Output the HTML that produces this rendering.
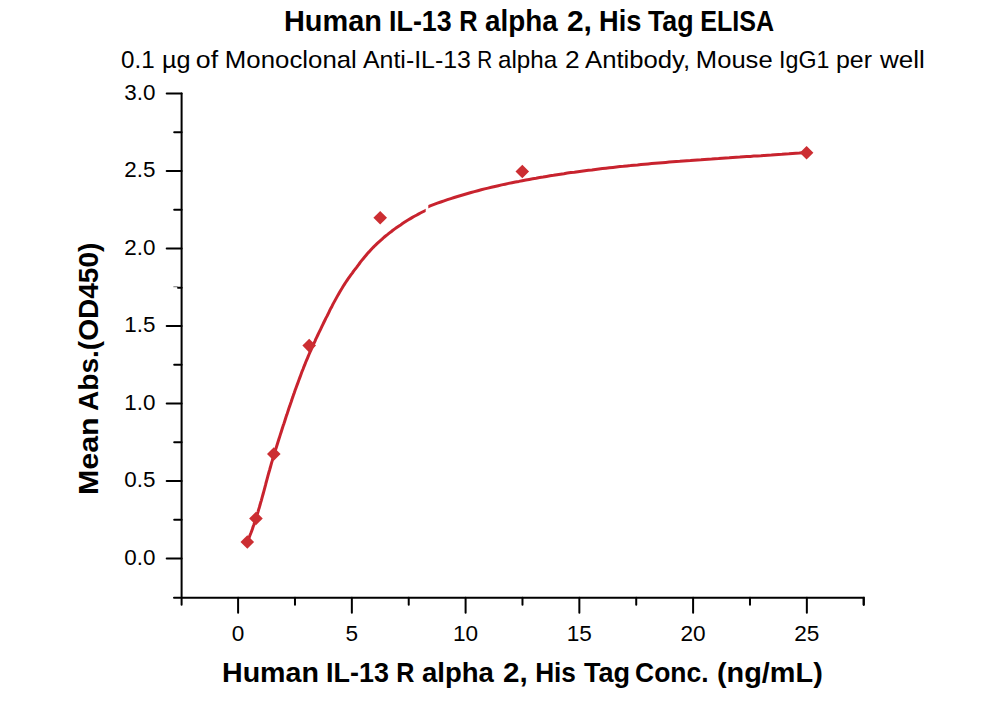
<!DOCTYPE html>
<html><head><meta charset="utf-8"><style>
html,body{margin:0;padding:0;background:#fff;width:1000px;height:702px;overflow:hidden}
svg{display:block}
text{font-family:"Liberation Sans",sans-serif;fill:#000}
</style></head><body>
<svg width="1000" height="702" viewBox="0 0 1000 702">
<rect width="1000" height="702" fill="#fff"/>
<g font-size="28.6" font-weight="bold"><text x="283.98" y="30.5" textLength="97.96" lengthAdjust="spacingAndGlyphs">Human</text><text x="389.12" y="30.5" textLength="62.58" lengthAdjust="spacingAndGlyphs">IL-13</text><text x="459.22" y="30.5" textLength="18.36" lengthAdjust="spacingAndGlyphs">R</text><text x="485.03" y="30.5" textLength="72.67" lengthAdjust="spacingAndGlyphs">alpha</text><text x="566.95" y="30.5" textLength="25.00" lengthAdjust="spacingAndGlyphs">2,</text><text x="599.10" y="30.5" textLength="42.33" lengthAdjust="spacingAndGlyphs">His</text><text x="648.00" y="30.5" textLength="45.61" lengthAdjust="spacingAndGlyphs">Tag</text><text x="700.25" y="30.5" textLength="73.82" lengthAdjust="spacingAndGlyphs">ELISA</text></g>
<g font-size="24.2"><text x="121.00" y="68" textLength="33.62" lengthAdjust="spacingAndGlyphs">0.1</text><text x="161.92" y="68" textLength="28.53" lengthAdjust="spacingAndGlyphs">µg</text><text x="195.89" y="68" textLength="22.31" lengthAdjust="spacingAndGlyphs">of</text><text x="224.87" y="68" textLength="131.95" lengthAdjust="spacingAndGlyphs">Monoclonal</text><text x="363.00" y="68" textLength="107.90" lengthAdjust="spacingAndGlyphs">Anti-IL-13</text><text x="477.29" y="68" textLength="14.97" lengthAdjust="spacingAndGlyphs">R</text><text x="498.00" y="68" textLength="59.19" lengthAdjust="spacingAndGlyphs">alpha</text><text x="564.91" y="68" textLength="14.68" lengthAdjust="spacingAndGlyphs">2</text><text x="585.00" y="68" textLength="105.19" lengthAdjust="spacingAndGlyphs">Antibody,</text><text x="695.89" y="68" textLength="76.76" lengthAdjust="spacingAndGlyphs">Mouse</text><text x="779.08" y="68" textLength="50.31" lengthAdjust="spacingAndGlyphs">IgG1</text><text x="835.94" y="68" textLength="36.03" lengthAdjust="spacingAndGlyphs">per</text><text x="880.00" y="68" textLength="44.80" lengthAdjust="spacingAndGlyphs">well</text></g>
<g stroke="#000" stroke-width="2" fill="none" stroke-linecap="round">
<path d="M181.6 93.60V604.7M174 597.8H863.73V604.7" />
<path d="M166.7 558.60H181.6" />
<path d="M166.7 481.10H181.6" />
<path d="M166.7 403.60H181.6" />
<path d="M166.7 326.10H181.6" />
<path d="M166.7 248.60H181.6" />
<path d="M166.7 171.10H181.6" />
<path d="M166.7 93.60H181.6" />
<path d="M174.2 519.85H181.6" />
<path d="M174.2 442.35H181.6" />
<path d="M174.2 364.85H181.6" />
<path d="M178 287.65H181.6" />
<path d="M173.8 286.75H177.5" stroke="#777" stroke-width="1.2"/>
<path d="M174.2 209.85H181.6" />
<path d="M174.2 132.35H181.6" />
<path d="M238.10 597.8V612.8" />
<path d="M351.85 597.8V612.8" />
<path d="M465.60 597.8V612.8" />
<path d="M579.35 597.8V612.8" />
<path d="M693.10 597.8V612.8" />
<path d="M806.85 597.8V612.8" />
<path d="M294.98 597.8V604.7" />
<path d="M408.73 597.8V604.7" />
<path d="M522.48 597.8V604.7" />
<path d="M636.23 597.8V604.7" />
<path d="M749.98 597.8V604.7" />
<path d="M863.73 597.8V604.7" />
</g>
<g font-size="22.4">
<text x="155.5" y="564.9" text-anchor="end">0.0</text>
<text x="155.5" y="487.4" text-anchor="end">0.5</text>
<text x="155.5" y="409.9" text-anchor="end">1.0</text>
<text x="155.5" y="332.4" text-anchor="end">1.5</text>
<text x="155.5" y="254.9" text-anchor="end">2.0</text>
<text x="155.5" y="177.4" text-anchor="end">2.5</text>
<text x="155.5" y="99.9" text-anchor="end">3.0</text>
</g>
<g font-size="22.6">
<text x="238.10" y="640.8" text-anchor="middle">0</text>
<text x="351.85" y="640.8" text-anchor="middle">5</text>
<text x="465.60" y="640.8" text-anchor="middle">10</text>
<text x="579.35" y="640.8" text-anchor="middle">15</text>
<text x="693.10" y="640.8" text-anchor="middle">20</text>
<text x="806.85" y="640.8" text-anchor="middle">25</text>
</g>
<g font-size="28.3" font-weight="bold"><text x="221.98" y="681.7" textLength="96.95" lengthAdjust="spacingAndGlyphs">Human</text><text x="326.10" y="681.7" textLength="62.90" lengthAdjust="spacingAndGlyphs">IL-13</text><text x="396.22" y="681.7" textLength="18.17" lengthAdjust="spacingAndGlyphs">R</text><text x="422.03" y="681.7" textLength="71.90" lengthAdjust="spacingAndGlyphs">alpha</text><text x="502.95" y="681.7" textLength="24.73" lengthAdjust="spacingAndGlyphs">2,</text><text x="535.15" y="681.7" textLength="40.82" lengthAdjust="spacingAndGlyphs">His</text><text x="584.00" y="681.7" textLength="46.12" lengthAdjust="spacingAndGlyphs">Tag</text><text x="635.07" y="681.7" textLength="73.44" lengthAdjust="spacingAndGlyphs">Conc.</text><text x="716.98" y="681.7" textLength="105.79" lengthAdjust="spacingAndGlyphs">(ng/mL)</text></g>
<g font-size="28.4" font-weight="bold" transform="translate(98 493) rotate(-90)"><text x="-2.14" y="0" textLength="77.84" lengthAdjust="spacingAndGlyphs">Mean</text><text x="82.01" y="0" textLength="168.36" lengthAdjust="spacingAndGlyphs">Abs.(OD450)</text></g>
<path d="M247.3 542.0 L248.2 539.8 L249.1 537.7 L249.9 535.5 L250.8 533.3 L251.6 531.2 L252.4 529.0 L253.1 526.8 L253.9 524.7 L254.6 522.5 L255.3 520.3 L256.0 518.1 L256.7 515.9 L257.4 513.7 L258.1 511.6 L258.7 509.4 L259.4 507.2 L260.0 505.0 L260.6 502.8 L261.3 500.6 L261.9 498.4 L262.5 496.2 L263.1 494.0 L263.7 491.8 L264.3 489.6 L264.9 487.4 L265.5 485.2 L266.0 483.0 L266.6 480.8 L267.2 478.6 L267.8 476.4 L268.4 474.2 L269.0 472.0 L269.7 469.7 L270.3 467.5 L270.9 465.3 L271.5 463.1 L272.2 460.9 L272.8 458.7 L273.5 456.5 L274.2 454.3 L274.8 452.1 L275.5 449.9 L276.2 447.7 L276.9 445.5 L277.6 443.2 L278.3 441.0 L279.0 438.8 L279.7 436.6 L280.4 434.4 L281.1 432.2 L281.8 430.0 L282.5 427.8 L283.2 425.6 L284.0 423.4 L284.7 421.2 L285.4 419.0 L286.1 416.8 L286.9 414.6 L287.6 412.4 L288.3 410.2 L289.0 408.0 L289.8 405.9 L290.5 403.7 L291.3 401.5 L292.0 399.3 L292.8 397.1 L293.5 394.9 L294.3 392.8 L295.0 390.6 L295.8 388.4 L296.6 386.2 L297.4 384.1 L298.2 381.9 L299.0 379.7 L299.8 377.6 L300.6 375.4 L301.4 373.3 L302.2 371.1 L303.1 369.0 L303.9 366.8 L304.8 364.7 L305.6 362.5 L306.5 360.4 L307.4 358.3 L308.3 356.1 L309.2 354.0 L310.1 351.9 L311.1 349.8 L312.0 347.6 L312.9 345.5 L313.9 343.4 L314.9 341.3 L315.8 339.2 L316.8 337.1 L317.8 335.0 L318.8 332.9 L319.8 330.8 L320.8 328.8 L321.8 326.7 L322.8 324.6 L323.8 322.5 L324.8 320.5 L325.8 318.4 L326.9 316.4 L327.9 314.3 L328.9 312.3 L329.9 310.2 L330.9 308.2 L332.0 306.2 L333.0 304.1 L334.1 302.1 L335.2 300.1 L336.3 298.1 L337.4 296.1 L338.5 294.2 L339.6 292.2 L340.8 290.2 L342.0 288.3 L343.2 286.3 L344.4 284.4 L345.6 282.5 L346.9 280.6 L348.2 278.7 L349.5 276.8 L350.9 274.9 L352.3 273.1 L353.6 271.2 L355.0 269.4 L356.4 267.6 L357.7 265.8 L359.1 264.0 L360.4 262.2 L361.8 260.4 L363.2 258.7 L364.6 257.0 L366.1 255.2 L367.5 253.5 L369.0 251.9 L370.5 250.2 L372.1 248.5 L373.7 246.9 L375.3 245.3 L377.0 243.7 L378.7 242.1 L380.4 240.6 L382.1 239.1 L383.8 237.5 L385.6 236.0 L387.4 234.6 L389.2 233.1 L391.1 231.7 L392.9 230.3 L394.8 228.9 L396.7 227.5 L398.6 226.2 L400.6 224.9 L402.5 223.6 L404.4 222.3 L406.4 221.0 L408.4 219.8 L410.4 218.6 L412.4 217.4 L414.4 216.3 L416.4 215.2 L418.4 214.1 L420.4 213.0 L422.4 212.0 L424.5 211.0 L426.5 210.0 M427.4 207.0 L430.8 205.7 L434.1 204.4 L437.4 203.2 L440.8 202.0 L444.1 200.9 L447.5 199.7 L450.8 198.6 L454.2 197.5 L457.5 196.5 L460.9 195.5 L464.3 194.5 L467.7 193.5 L471.1 192.5 L474.4 191.6 L477.8 190.7 L481.2 189.8 L484.6 188.9 L488.0 188.1 L491.4 187.3 L494.9 186.5 L498.3 185.7 L501.7 184.9 L505.1 184.2 L508.6 183.4 L512.0 182.7 L515.4 182.0 L518.9 181.4 L522.3 180.7 L525.8 180.0 L529.2 179.4 L532.7 178.8 L536.1 178.2 L539.6 177.5 L543.1 177.0 L546.5 176.4 L550.0 175.8 L553.5 175.3 L557.0 174.7 L560.4 174.2 L563.9 173.7 L567.4 173.1 L570.9 172.6 L574.4 172.2 L577.9 171.7 L581.4 171.2 L584.9 170.7 L588.4 170.3 L591.9 169.9 L595.4 169.4 L598.9 169.0 L602.4 168.6 L605.9 168.2 L609.4 167.8 L612.9 167.4 L616.4 167.0 L619.9 166.6 L623.4 166.3 L627.0 165.9 L630.5 165.6 L634.0 165.2 L637.5 164.9 L641.0 164.5 L644.6 164.2 L648.1 163.9 L651.6 163.6 L655.1 163.3 L658.7 163.0 L662.2 162.7 L665.7 162.4 L669.2 162.1 L672.8 161.8 L676.3 161.5 L679.8 161.3 L683.4 161.0 L686.9 160.7 L690.4 160.5 L693.9 160.2 L697.5 159.9 L701.0 159.7 L704.5 159.4 L708.1 159.2 L711.6 159.0 L715.1 158.7 L718.6 158.5 L722.2 158.2 L725.7 158.0 L729.2 157.8 L732.7 157.5 L736.3 157.3 L739.8 157.1 L743.3 156.8 L746.8 156.6 L750.3 156.4 L753.8 156.1 L757.4 155.9 L760.9 155.7 L764.4 155.4 L767.9 155.2 L771.4 155.0 L774.9 154.7 L778.4 154.5 L781.9 154.3 L785.4 154.0 L788.9 153.8 L792.4 153.5 L795.9 153.3 L799.4 153.1 L802.9 152.8 L806.4 152.5" fill="none" stroke="#c8232e" stroke-width="3" stroke-linejoin="round"/>
<rect x="425.7" y="202" width="2.6" height="14" fill="#fff"/>
<g fill="#cc2e32">
<path d="M247.30 535.20L254.10 542.00L247.30 548.80L240.50 542.00Z"/>
<path d="M255.95 511.70L262.75 518.50L255.95 525.30L249.15 518.50Z"/>
<path d="M273.80 447.20L280.60 454.00L273.80 460.80L267.00 454.00Z"/>
<path d="M309.20 338.80L316.00 345.60L309.20 352.40L302.40 345.60Z"/>
<path d="M380.20 211.00L387.00 217.80L380.20 224.60L373.40 217.80Z"/>
<path d="M522.30 164.70L529.10 171.50L522.30 178.30L515.50 171.50Z"/>
<path d="M806.60 145.90L813.40 152.70L806.60 159.50L799.80 152.70Z"/>
</g>
</svg>
</body></html>
